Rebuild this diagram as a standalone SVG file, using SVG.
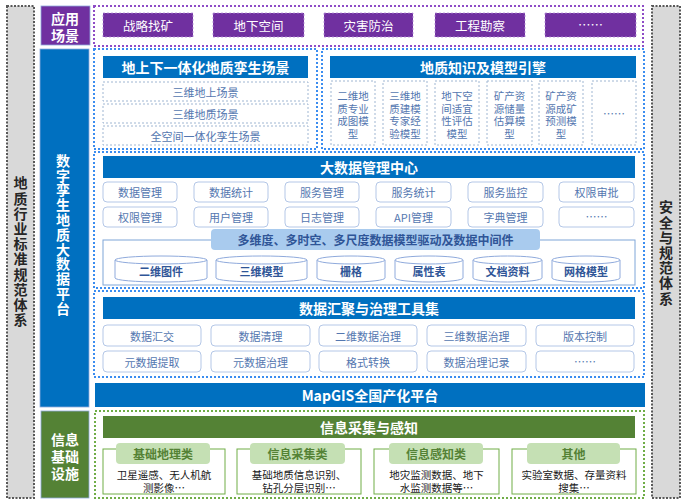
<svg xmlns="http://www.w3.org/2000/svg" width="687" height="504" viewBox="0 0 687 504">
<style>
text{font-family:"Noto Sans CJK SC","Liberation Sans",sans-serif;text-anchor:middle;dominant-baseline:central}
.vt{writing-mode:vertical-rl;text-anchor:start}
.side{fill:#D9D9D9;stroke:#595959;stroke-width:2;stroke-dasharray:2 1.5}
.sidet{fill:#262626;font-size:14px;font-weight:bold;letter-spacing:1.2px}
.wt{fill:#fff;font-weight:bold;font-size:14px}
.pbox{fill:#7030A0;stroke:#B38ED6;stroke-width:0.8;stroke-dasharray:2 2}
.pt{fill:#fff;font-size:12.5px}
.pcont{fill:none;stroke:#8E4CC6;stroke-width:2;stroke-dasharray:2 2}
.bcont{fill:none;stroke:#3B8DF0;stroke-width:2;stroke-dasharray:2 2}
.gcont{fill:none;stroke:#70AD47;stroke-width:2;stroke-dasharray:2 2}
.bh{fill:#0070C0}
.dbox{fill:#fff;stroke:#9FB6D2;stroke-width:1;stroke-dasharray:2 2}
.rbox{fill:#fff;stroke:#B4C7E7;stroke-width:1}
.bt{fill:#5477B0;font-size:11px}
.mt{fill:#5477B0;font-size:10.5px}
.cyl{fill:#fff;stroke:#8FAADC;stroke-width:1}
.ct{fill:#2F5597;font-size:11px;font-weight:bold}
.gbox{fill:#fff;stroke:#70AD47;stroke-width:1}
.tab{fill:#C5E0B4}
.tt{fill:#548235;font-size:12px;font-weight:bold}
.it{fill:#1a1a1a;font-size:10.5px}
</style>

<g id="side-left">
<rect class="side" x="7" y="6" width="27" height="492"/>
<text class="sidet vt" x="20.5" y="176">地质行业标准规范体系</text>
</g>

<g id="side-right">
<rect class="side" x="652" y="6" width="28" height="492"/>
<text class="sidet vt" x="666" y="200">安全与规范体系</text>
</g>

<g id="label-app">
<rect x="41" y="6" width="49" height="39" fill="#7030A0" stroke="#8FAADC" stroke-width="0.8"/>
<text class="wt" x="65" y="18" font-size="15">应用<tspan x="65" dy="17">场景</tspan></text>
</g>

<g id="label-platform">
<rect x="40" y="49" width="49" height="358" fill="#0070C0" stroke="#8FAADC" stroke-width="0.8"/>
<text class="wt vt" x="63" y="153.5" font-size="13" letter-spacing="0.8">数字孪生地质大数据平台</text>
</g>

<g id="label-infra">
<rect x="41" y="411" width="48" height="87" fill="#548235" stroke="#8FAADC" stroke-width="0.8"/>
<text class="wt" x="65" y="439">信息<tspan x="65" dy="17">基础</tspan><tspan x="65" dy="17">设施</tspan></text>
</g>

<g id="app-scenes">
<rect class="pcont" x="94" y="6" width="549" height="40"/>
<rect class="pbox" x="103" y="13" width="90" height="24"/>
<text class="pt" x="148" y="25">战略找矿</text>
<rect class="pbox" x="213" y="13" width="91" height="24"/>
<text class="pt" x="258.5" y="25">地下空间</text>
<rect class="pbox" x="324" y="13" width="89" height="24"/>
<text class="pt" x="368.5" y="25">灾害防治</text>
<rect class="pbox" x="435" y="13" width="90" height="24"/>
<text class="pt" x="480" y="25">工程勘察</text>
<rect class="pbox" x="545" y="13" width="91" height="24"/>
<text class="pt" x="590.5" y="24" font-size="9">……</text>
</g>

<g id="twin-scene">
<rect class="bcont" x="94" y="49" width="223" height="100"/>
<rect class="bh" x="103" y="56" width="205" height="22"/>
<text class="wt" x="205.5" y="67">地上下一体化地质孪生场景</text>
<rect class="dbox" x="103" y="82" width="205" height="19"/>
<text class="bt" x="205.5" y="91.5">三维地上场景</text>
<rect class="dbox" x="103" y="104" width="205" height="19"/>
<text class="bt" x="205.5" y="113.5">三维地质场景</text>
<rect class="dbox" x="103" y="126" width="205" height="19"/>
<text class="bt" x="205.5" y="135.5">全空间一体化孪生场景</text>
</g>

<g id="model-engine">
<rect class="bcont" x="322" y="49" width="322" height="100"/>
<rect class="bh" x="330" y="56" width="306" height="22"/>
<text class="wt" x="483" y="67">地质知识及模型引擎</text>
<rect class="dbox" x="331" y="81" width="44" height="64"/>
<text class="mt" x="353" y="95">二维地<tspan x="353" dy="12.5">质专业</tspan><tspan x="353" dy="12.5">成图模</tspan><tspan x="353" dy="12.5">型</tspan></text>
<rect class="dbox" x="383" y="81" width="44" height="64"/>
<text class="mt" x="405" y="95">三维地<tspan x="405" dy="12.5">质建模</tspan><tspan x="405" dy="12.5">专家经</tspan><tspan x="405" dy="12.5">验模型</tspan></text>
<rect class="dbox" x="435" y="81" width="44" height="64"/>
<text class="mt" x="457" y="95">地下空<tspan x="457" dy="12.5">间适宜</tspan><tspan x="457" dy="12.5">性评估</tspan><tspan x="457" dy="12.5">模型</tspan></text>
<rect class="dbox" x="487" y="81" width="45" height="64"/>
<text class="mt" x="509.5" y="95">矿产资<tspan x="509.5" dy="12.5">源储量</tspan><tspan x="509.5" dy="12.5">估算模</tspan><tspan x="509.5" dy="12.5">型</tspan></text>
<rect class="dbox" x="539" y="81" width="44" height="64"/>
<text class="mt" x="561" y="95">矿产资<tspan x="561" dy="12.5">源成矿</tspan><tspan x="561" dy="12.5">预测模</tspan><tspan x="561" dy="12.5">型</tspan></text>
<rect class="dbox" x="592" y="81" width="44" height="64"/>
<text class="bt" x="614" y="113" font-size="9">……</text>
</g>

<g id="bigdata-center">
<rect class="bcont" x="94" y="152" width="550" height="136"/>
<rect class="bh" x="103" y="156" width="532" height="22"/>
<text class="wt" x="369" y="167">大数据管理中心</text>
<rect class="rbox" x="103" y="182" width="74" height="20" rx="4"/>
<text class="bt" x="140" y="192">数据管理</text>
<rect class="rbox" x="194" y="182" width="74" height="20" rx="4"/>
<text class="bt" x="231" y="192">数据统计</text>
<rect class="rbox" x="285" y="182" width="74" height="20" rx="4"/>
<text class="bt" x="322" y="192">服务管理</text>
<rect class="rbox" x="376" y="182" width="75" height="20" rx="4"/>
<text class="bt" x="413.5" y="192">服务统计</text>
<rect class="rbox" x="468" y="182" width="75" height="20" rx="4"/>
<text class="bt" x="505.5" y="192">服务监控</text>
<rect class="rbox" x="559" y="182" width="75" height="20" rx="4"/>
<text class="bt" x="596.5" y="192">权限审批</text>
<rect class="rbox" x="103" y="207" width="74" height="20" rx="4"/>
<text class="bt" x="140" y="217">权限管理</text>
<rect class="rbox" x="194" y="207" width="74" height="20" rx="4"/>
<text class="bt" x="231" y="217">用户管理</text>
<rect class="rbox" x="285" y="207" width="74" height="20" rx="4"/>
<text class="bt" x="322" y="217">日志管理</text>
<rect class="rbox" x="376" y="207" width="75" height="20" rx="4"/>
<text class="bt" x="413.5" y="217">API管理</text>
<rect class="rbox" x="468" y="207" width="75" height="20" rx="4"/>
<text class="bt" x="505.5" y="217">字典管理</text>
<rect class="rbox" x="559" y="207" width="75" height="20" rx="4"/>
<text class="bt" x="596.5" y="216" font-size="9">……</text>
<rect x="103" y="240" width="532" height="45" fill="#fff" stroke="#7FA6D8" stroke-width="1"/>
<rect x="211" y="229" width="329" height="21" rx="4" fill="#A9CBEE"/>
<text x="375.5" y="239.5" fill="#2F5597" font-size="12px" font-weight="bold">多维度、多时空、多尺度数据模型驱动及数据中间件</text>
</g>

<g id="data-stores">
<path class="cyl" d="M115,260 L115,278 A46,4 0 0 0 207,278 L207,260"/><ellipse class="cyl" cx="161" cy="260" rx="46" ry="4"/>
<text class="ct" x="161" y="271">二维图件</text>
<path class="cyl" d="M216,260 L216,278 A45.5,4 0 0 0 307,278 L307,260"/><ellipse class="cyl" cx="261.5" cy="260" rx="45.5" ry="4"/>
<text class="ct" x="261.5" y="271">三维模型</text>
<path class="cyl" d="M317,260 L317,278 A34,4 0 0 0 385,278 L385,260"/><ellipse class="cyl" cx="351" cy="260" rx="34" ry="4"/>
<text class="ct" x="351" y="271">栅格</text>
<path class="cyl" d="M395,260 L395,278 A34,4 0 0 0 463,278 L463,260"/><ellipse class="cyl" cx="429" cy="260" rx="34" ry="4"/>
<text class="ct" x="429" y="271">属性表</text>
<path class="cyl" d="M473,260 L473,278 A34.5,4 0 0 0 542,278 L542,260"/><ellipse class="cyl" cx="507.5" cy="260" rx="34.5" ry="4"/>
<text class="ct" x="507.5" y="271">文档资料</text>
<path class="cyl" d="M552,260 L552,278 A34,4 0 0 0 620,278 L620,260"/><ellipse class="cyl" cx="586" cy="260" rx="34" ry="4"/>
<text class="ct" x="586" y="271">网格模型</text>
</g>

<g id="data-tools">
<rect class="bcont" x="94" y="291" width="550" height="86"/>
<rect class="bh" x="103" y="297" width="532" height="22"/>
<text class="wt" x="369" y="308">数据汇聚与治理工具集</text>
<rect class="rbox" x="103" y="325" width="98" height="21" rx="4"/>
<text class="bt" x="152" y="335.5">数据汇交</text>
<rect class="rbox" x="211" y="325" width="99" height="21" rx="4"/>
<text class="bt" x="260.5" y="335.5">数据清理</text>
<rect class="rbox" x="319" y="325" width="98" height="21" rx="4"/>
<text class="bt" x="368" y="335.5">二维数据治理</text>
<rect class="rbox" x="427" y="325" width="99" height="21" rx="4"/>
<text class="bt" x="476.5" y="335.5">三维数据治理</text>
<rect class="rbox" x="536" y="325" width="98" height="21" rx="4"/>
<text class="bt" x="585" y="335.5">版本控制</text>
<rect class="rbox" x="103" y="351" width="98" height="21" rx="4"/>
<text class="bt" x="152" y="361.5">元数据提取</text>
<rect class="rbox" x="211" y="351" width="99" height="21" rx="4"/>
<text class="bt" x="260.5" y="361.5">元数据治理</text>
<rect class="rbox" x="319" y="351" width="98" height="21" rx="4"/>
<text class="bt" x="368" y="361.5">格式转换</text>
<rect class="rbox" x="427" y="351" width="99" height="21" rx="4"/>
<text class="bt" x="476.5" y="361.5">数据治理记录</text>
<rect class="rbox" x="536" y="351" width="98" height="21" rx="4"/>
<text class="bt" x="585" y="360.5" font-size="9">……</text>
</g>

<g id="mapgis">
<rect x="95" y="383" width="550" height="24" fill="#0070C0"/>
<text class="wt" x="370" y="395">MapGIS全国产化平台</text>
</g>

<g id="info-collection">
<rect class="gcont" x="95" y="411" width="549" height="87"/>
<rect x="103" y="416" width="532" height="22" fill="#548235"/>
<text class="wt" x="369" y="427">信息采集与感知</text>
<rect class="gbox" x="103" y="449" width="122" height="45"/>
<rect class="tab" x="116" y="443" width="94" height="21" rx="4"/>
<text class="tt" x="163" y="453.5">基础地理类</text>
<text class="it" x="164" y="474">卫星遥感、无人机航<tspan x="164" dy="13">测影像…</tspan></text>
<rect class="gbox" x="237" y="449" width="124" height="45"/>
<rect class="tab" x="250" y="443" width="95" height="21" rx="4"/>
<text class="tt" x="297.5" y="453.5">信息采集类</text>
<text class="it" x="299" y="474">基础地质信息识别、<tspan x="299" dy="13">钻孔分层识别…</tspan></text>
<rect class="gbox" x="374" y="449" width="125" height="45"/>
<rect class="tab" x="389" y="443" width="94" height="21" rx="4"/>
<text class="tt" x="436" y="453.5">信息感知类</text>
<text class="it" x="436.5" y="474">地灾监测数据、地下<tspan x="436.5" dy="13">水监测数据等…</tspan></text>
<rect class="gbox" x="512" y="449" width="124" height="45"/>
<rect class="tab" x="527" y="443" width="93" height="21" rx="4"/>
<text class="tt" x="573.5" y="453.5">其他</text>
<text class="it" x="574" y="474">实验室数据、存量资料<tspan x="574" dy="13">搜集…</tspan></text>
</g>
</svg>
